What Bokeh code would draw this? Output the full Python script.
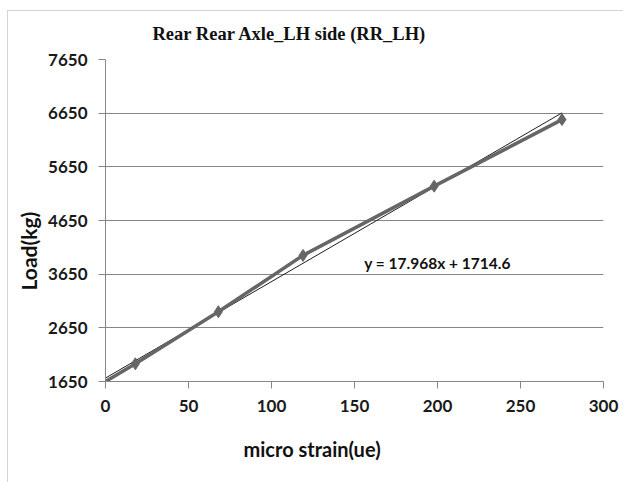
import numpy as np
from bokeh.plotting import figure
from bokeh.models import Label, FixedTicker, Range1d, Title
from bokeh.embed import file_html
from bokeh.resources import INLINE

# Data
strain = [0, 18, 68, 119, 198, 275]
load = [1650, 1980, 2950, 4000, 5290, 6530]
slope, intercept = 17.968, 1714.6
x_ticks = [0, 50, 100, 150, 200, 250, 300]
y_ticks = [1650, 2650, 3650, 4650, 5650, 6650, 7650]
title_text = "Rear Rear Axle_LH side (RR_LH)"
x_label = "micro strain(ue)"
y_label = "Load(kg)"
eq_text = "y = 17.968x + 1714.6"

p = figure(width=616, height=477, output_backend="svg", toolbar_location=None,
           x_range=Range1d(0, 300), y_range=Range1d(1650, 7650),
           min_border_left=98, min_border_right=20, min_border_top=54, min_border_bottom=101,
           margin=(5, 0, 0, 7))
# thin chart-area border on the left and top (drawn behind a transparent canvas border)
p.styles = {
    "background-color": "white",
    "background-image": "linear-gradient(#d4d4d4, #d4d4d4), linear-gradient(#d4d4d4, #d4d4d4)",
    "background-size": "100% 1px, 1px 100%",
    "background-position": "0 5px, 0 5px",
    "background-repeat": "no-repeat",
}
p.outline_line_color = None
p.background_fill_color = "white"
p.border_fill_color = None

p.xaxis.ticker = FixedTicker(ticks=x_ticks)
p.yaxis.ticker = FixedTicker(ticks=y_ticks)
for ax in (p.xaxis[0], p.yaxis[0]):
    ax.axis_line_color = "#868686"
    ax.major_tick_line_color = "#868686"
    ax.major_tick_out = 7
    ax.major_tick_in = 0
    ax.minor_tick_line_color = None
    ax.major_label_text_font = "Lato"
    ax.major_label_text_font_style = "bold"
    ax.major_label_text_font_size = "17px"
    ax.major_label_text_color = "#1a1a1a"
p.yaxis.major_label_standoff = 11
p.xaxis.major_label_standoff = 11

p.xgrid.grid_line_color = None
p.ygrid.grid_line_color = "#868686"
p.ygrid.grid_line_width = 1

# trendline
tx = np.array([0, 275])
p.line(tx, slope * tx + intercept, line_color="#1e1e1e", line_width=1)
# series
p.line(strain, load, line_color="#666666", line_width=3.5)
p.scatter(strain[1:], load[1:], marker="diamond", size=12, fill_color="#666666", line_color="#666666")

p.add_layout(Title(text=title_text, align="left", offset=47, standoff=32,
                   text_font="Liberation Serif", text_font_style="bold", text_font_size="18.5px",
                   text_color="#111111"), "above")
p.add_layout(Title(text=x_label, align="left", offset=138, standoff=40, text_font="Lato",
                   text_font_style="bold", text_font_size="20px", text_color="#111111"), "below")
p.add_layout(Title(text=y_label, align="left", offset=91, standoff=9, text_font="Lato",
                   text_font_style="bold", text_font_size="21px", text_color="#111111"), "left")
p.add_layout(Label(x=200, y=3867, text=eq_text, text_font="Lato", text_font_style="bold",
                   text_font_size="15.5px", text_align="center", text_baseline="middle", text_color="#111111"))

open("out.html", "w").write(file_html(p, INLINE))
